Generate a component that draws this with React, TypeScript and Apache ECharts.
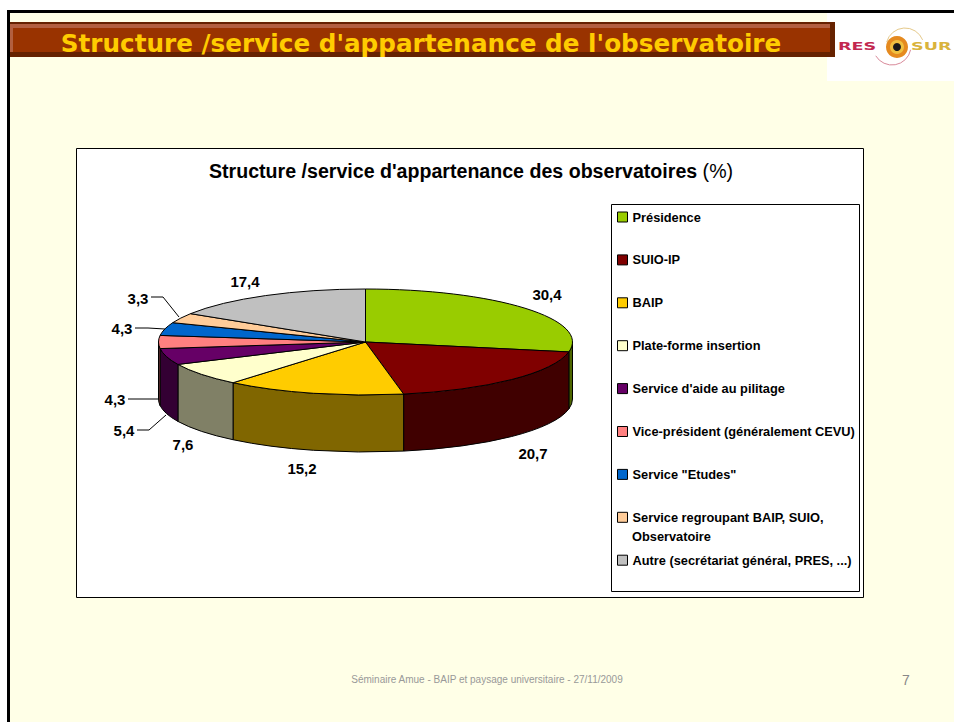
import React, { useEffect, useRef } from "react";
import * as echarts from "echarts";

const categories = [
  "Présidence",
  "SUIO-IP",
  "BAIP",
  "Plate-forme insertion",
  "Service d'aide au pilitage",
  "Vice-président (généralement CEVU)",
  'Service "Etudes"',
  "Service regroupant BAIP, SUIO, Observatoire",
  "Autre (secrétariat général, PRES, ...)",
];
const wrappedIndex = 7;
const wrappedLines = ["Service regroupant BAIP, SUIO,", "Observatoire"];
const values = [30.4, 20.7, 15.2, 7.6, 5.4, 4.3, 4.3, 3.3, 17.4];
const topColors = ["#99CC00", "#800000", "#FFCC00", "#FFFFCC", "#660066", "#FF8080", "#0066CC", "#FFCC99", "#C0C0C0"];
const wallColors = ["#4D6600", "#400000", "#806600", "#808066", "#330033", "#804040", "#003366", "#806633", "#606060"];

const slideTitle = "Structure /service d'appartenance de l'observatoire";
const chartTitle = "Structure /service d'appartenance des observatoires";
const footer = "Séminaire Amue - BAIP et paysage universitaire - 27/11/2009";
const pageNumber = "7";

// Layout
const CX = 365.5, CY = 342, RX = 207, RY = 53, DEPTH = 57;
const labelAnchors = [
  [547, 294], [533, 453], [302, 468], [183, 444], [124, 430], [115, 399], [122, 328], [138, 298], [245, 281],
];
const leaders: (number[][] | null)[] = [
  null, null, null, null,
  [[137, 430], [149, 430], [166, 415]],
  [[128, 399], [158, 399]],
  [[135, 328], [148, 328], [165, 329]],
  [[151, 297], [163, 297], [179, 317]],
  null,
];

const total = values.reduce((a, b) => a + b, 0);
const startOf = (i: number) => values.slice(0, i).reduce((a, b) => a + b, 0);
const pt = (deg: number, dy = 0) => {
  const t = (deg * Math.PI) / 180;
  return [CX + RX * Math.sin(t), CY - RY * Math.cos(t) + dy];
};
const n = (p: number[]) => `${p[0].toFixed(2)} ${p[1].toFixed(2)}`;

function renderSlice(params: any, api: any) {
  const i = params.seriesIndex;
  const v = api.value(0);
  const a = (startOf(i) / total) * 360;
  const b = a + (v / total) * 360;
  const large = b - a > 180 ? 1 : 0;
  const children: any[] = [];
  const wa = Math.max(a, 90), wb = Math.min(b, 270);
  if (wb > wa) {
    const d = `M ${n(pt(wa))} A ${RX} ${RY} 0 0 1 ${n(pt(wb))} L ${n(pt(wb, DEPTH))} A ${RX} ${RY} 0 0 0 ${n(pt(wa, DEPTH))} Z`;
    children.push({
      type: "path", z2: 1, shape: { pathData: d },
      style: { fill: wallColors[i], stroke: "#000", lineWidth: 1 },
    });
  }
  children.push({
    type: "path", z2: 2,
    shape: { pathData: `M ${CX} ${CY} L ${n(pt(a))} A ${RX} ${RY} 0 ${large} 1 ${n(pt(b))} Z` },
    style: { fill: topColors[i], stroke: "#000", lineWidth: 1 },
  });
  const leader = leaders[i];
  if (leader) {
    children.push({
      type: "polyline", z2: 3, shape: { points: leader },
      style: { fill: "none", stroke: "#000", lineWidth: 1 },
    });
  }
  children.push({
    type: "text", z2: 4, x: labelAnchors[i][0], y: labelAnchors[i][1],
    style: {
      text: v.toFixed(1).replace(".", ","), fill: "#000", align: "center", verticalAlign: "middle",
      font: 'bold 15px "Liberation Sans", Arial, sans-serif',
    },
  });
  return { type: "group", children };
}

export default function App() {
  const ref = useRef<HTMLDivElement>(null);
  useEffect(() => {
    const chart = echarts.init(ref.current!, undefined, { renderer: "svg" });
    chart.setOption({
      animation: false,
      backgroundColor: "#FFFFFF",
      title: {
        text: `{b|${chartTitle}}{r| (%)}`,
        left: 209, top: 161, padding: 0,
        textStyle: {
          rich: {
            b: { fontFamily: "Liberation Sans", fontWeight: "bold", fontSize: 19.6, color: "#000" },
            r: { fontFamily: "Liberation Sans", fontWeight: "normal", fontSize: 19.6, color: "#000" },
          },
        },
      },
      legend: {
        orient: "vertical", left: 617, top: 210, padding: 0,
        itemWidth: 10, itemHeight: 10, itemGap: 28.9, icon: "rect",
        data: categories,
        selectedMode: false,
        itemStyle: { borderColor: "#000", borderWidth: 1 },
        formatter: (name: string) => (name === categories[wrappedIndex] ? wrappedLines[0] : name),
        textStyle: {
          fontFamily: "Liberation Sans", fontWeight: "bold", fontSize: 12.8, color: "#000",
          height: 14, lineHeight: 14,
        },
      },
      graphic: [
        { type: "rect", shape: { x: 8.5, y: 11.5, width: 1000, height: 1000 }, style: { fill: "#FFFFE7", stroke: "#000", lineWidth: 3 } },
        { type: "rect", shape: { x: 827, y: 13, width: 127, height: 68 }, style: { fill: "#FFFFFF" } },
        { type: "rect", shape: { x: 10, y: 22, width: 825, height: 35 }, style: { fill: "#662200" } },
        { type: "rect", shape: { x: 10, y: 24, width: 820, height: 4 }, style: { fill: "#B25F3F" } },
        { type: "rect", shape: { x: 10, y: 28, width: 820, height: 24 }, style: { fill: "#993300" } },
        { type: "rect", shape: { x: 10, y: 28, width: 3, height: 24 }, style: { fill: "#B25F3F" } },
        {
          type: "text", x: 421, y: 43,
          style: { text: slideTitle, fill: "#FFCC00", align: "center", verticalAlign: "middle", font: 'bold 24.7px "DejaVu Sans"' },
        },
        // logo
        { type: "text", x: 838, y: 46, scaleX: 1.6, style: { text: "RES", fill: "#C2274F", verticalAlign: "middle", font: 'bold 11px "DejaVu Sans"' } },
        { type: "text", x: 911, y: 46, scaleX: 1.6, style: { text: "SUR", fill: "#D9B33C", verticalAlign: "middle", font: 'bold 11px "DejaVu Sans"' } },
        { type: "arc", shape: { cx: 892, cy: 46, r: 19, startAngle: 0.2, endAngle: 2.6 }, style: { fill: "none", stroke: "#D98A9A", lineWidth: 1 } },
        { type: "arc", shape: { cx: 905, cy: 47, r: 19, startAngle: 3.4, endAngle: 5.9 }, style: { fill: "none", stroke: "#E5C98A", lineWidth: 1 } },
        { type: "circle", shape: { cx: 897, cy: 47, r: 11 }, style: { fill: "#E58A1F" } },
        { type: "circle", shape: { cx: 897, cy: 47, r: 7 }, style: { fill: "#F0C040" } },
        { type: "circle", shape: { cx: 897, cy: 47, r: 4 }, style: { fill: "#1A1A1A" } },
        // chart frame
        { type: "rect", shape: { x: 76.5, y: 148.5, width: 787, height: 449 }, style: { fill: "#FFFFFF", stroke: "#000", lineWidth: 1 } },
        { type: "rect", shape: { x: 611.5, y: 204.5, width: 248, height: 387 }, style: { fill: "#FFFFFF", stroke: "#000", lineWidth: 1 } },
        {
          type: "text", x: 632, y: 536,
          style: { text: wrappedLines[1], fill: "#000", verticalAlign: "middle", font: 'bold 12.8px "Liberation Sans"' },
        },
        {
          type: "text", x: 487, y: 679,
          style: { text: footer, fill: "#999999", align: "center", verticalAlign: "middle", font: '10px "Liberation Sans"' },
        },
        {
          type: "text", x: 906, y: 680,
          style: { text: pageNumber, fill: "#888888", align: "center", verticalAlign: "middle", font: '14px "Liberation Sans"' },
        },
      ],
      series: categories.map((name, i) => ({
        type: "custom",
        name,
        coordinateSystem: "none",
        silent: true,
        itemStyle: { color: topColors[i] },
        data: [values[i]],
        renderItem: renderSlice,
      })),
    });
    return () => chart.dispose();
  }, []);
  return <div ref={ref} style={{ position: "fixed", left: 0, top: 0, width: 954, height: 722 }} />;
}
